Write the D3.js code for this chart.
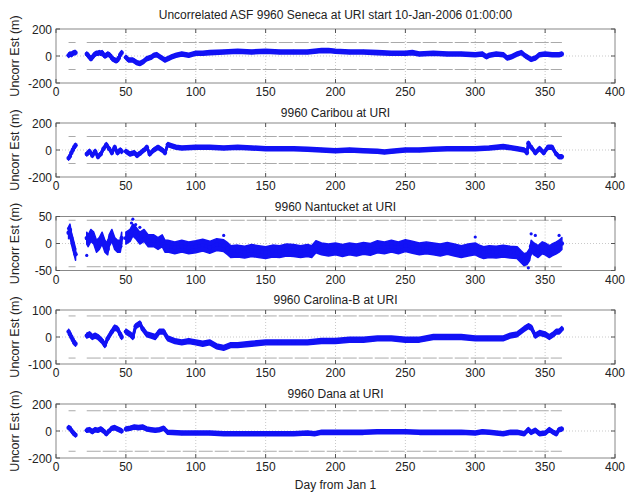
<!DOCTYPE html>
<html><head><meta charset="utf-8">
<script src="https://cdn.jsdelivr.net/npm/d3@7"></script>
<style>
body{margin:0;background:#fff;}
text{font-family:"Liberation Sans",Arial,sans-serif;}
</style></head>
<body><svg id="c" width="628" height="495"></svg>
<script>
// ---------- data ----------
const xTicks = [0,50,100,150,200,250,300,350,400];
const titles = [
  "Uncorrelated ASF 9960 Seneca at URI start 10-Jan-2006 01:00:00",
  "9960 Caribou at URI",
  "9960 Nantucket at URI",
  "9960 Carolina-B at URI",
  "9960 Dana at URI"
];
const yLimits = [200, 200, 50, 100, 200];
const thresholds = [100, 100, 43, 78, 150];
const spreads = [15, 15, 11, 9, 15];   // half thickness of the point cloud (data units)
const gaps = [[14,22],[47,50]];
const threshSpans = [[9,14],[22,362]];

const days1 = [9,10,11,12,13,14,22,23,24,25,26,27,28,29,30,31,32,33,34,35,36,37,38,39,40,41,42,43,44,45,46,47,
  50,52,55,58,60,62,65,68,70,72,75,78,80,83,86,90,93,95,100,105,110,120,130,140,150,160,170,180,190,195,200,210,220,230,240,250,255,260,270,280,290,300,305,308,310,315,320,323,326,330,333,336,340,343,346,350,355,360,362];
const vals1 = [5,15,10,20,25,25,15,5,-10,-20,-10,5,15,20,20,25,20,25,10,0,5,15,10,0,-15,-25,-30,-35,-30,-15,10,25,
  -10,-30,-30,-50,-55,-45,-20,-10,5,10,-10,-30,-20,-5,5,15,10,5,20,20,25,30,35,30,35,30,30,30,40,40,35,30,30,25,20,20,25,15,20,15,15,10,15,-5,5,15,10,-15,-5,15,25,0,-25,-15,10,15,10,10,15];

const days2 = [9,10,11,12,13,14,22,24,26,28,30,32,34,36,38,40,42,44,46,47,
  50,53,56,58,60,63,65,67,70,73,76,78,80,83,86,90,100,110,120,130,140,150,160,170,180,190,200,210,220,230,235,240,250,260,270,280,290,300,310,320,330,335,337,338,340,343,346,349,352,355,358,360,362];
const vals2 = [-60,-45,-20,0,20,35,-30,-10,-40,-10,-50,-30,10,40,10,-20,20,-20,0,-10,
  -10,-30,-20,-40,-25,0,20,-30,0,20,0,-20,40,30,20,15,20,20,15,20,15,10,10,10,5,0,-5,0,-5,-10,-15,-10,0,0,5,10,10,10,15,25,10,0,-20,50,20,-20,10,-20,20,20,-30,-50,-50];

const days3 = [9,10,11,12,13,14,22,23,25,27,29,31,33,35,37,38,40,42,44,46,47,
  50,53,55,57,60,63,66,70,73,76,78,80,85,90,95,100,105,110,115,120,123,125,130,135,140,145,150,155,160,165,170,175,180,183,186,190,195,200,205,210,215,220,225,230,235,240,245,250,255,260,265,270,275,280,285,290,295,300,303,306,310,315,320,325,330,333,335,337,339,340,342,345,348,350,353,355,358,360,362];
const vals3 = [20,25,10,0,-10,-20,10,5,15,10,-5,0,10,-5,-10,5,15,0,-5,-5,10,
  10,15,25,20,10,15,5,5,0,5,-5,-5,-8,-5,-8,-6,-3,-7,-2,-4,-10,-15,-14,-16,-13,-15,-17,-14,-15,-12,-13,-15,-13,-15,-6,-10,-12,-10,-13,-10,-12,-9,-11,-6,-8,-5,-8,-4,-7,-10,-8,-10,-12,-9,-12,-15,-12,-10,-14,-17,-15,-16,-14,-16,-17,-25,-30,-28,-20,-5,-10,-15,-8,-10,-15,-12,-8,-5,0];
const outDays3 = [9,22,54,55,57,60,120,300,335,338,340,343,360];
const outVals3 = [28,-22,38,45,35,30,15,12,-38,-45,18,15,15];

const days4 = [9,10,11,12,13,14,22,24,26,28,30,33,35,37,40,42,44,46,47,
  50,53,55,57,60,62,65,68,71,74,77,80,85,90,95,100,105,110,115,120,125,130,140,150,160,170,180,190,200,210,220,230,240,250,260,270,280,290,300,310,320,325,330,335,338,340,343,346,350,353,356,358,360,362];
const vals4 = [20,10,0,-10,-20,-25,5,10,0,5,0,-15,-30,-5,20,35,30,10,0,
  20,10,0,40,50,30,10,5,0,20,20,-5,-15,-20,-15,-20,-25,-20,-35,-40,-30,-30,-25,-20,-20,-20,-20,-15,-15,-10,-10,-5,-5,-10,-10,0,0,0,-5,-5,-5,5,10,30,40,35,5,15,10,0,10,20,20,30];

const days5 = [9,10,11,12,13,14,22,24,26,28,30,32,34,36,38,40,42,44,46,47,
  50,53,56,59,62,65,68,71,74,77,80,90,100,110,120,130,140,150,160,170,180,185,190,200,210,220,230,240,250,260,270,280,290,300,305,310,320,325,330,335,338,340,343,346,350,353,356,358,360,362];
const vals5 = [25,20,5,-10,-20,-30,5,10,-5,10,5,15,0,-20,0,20,25,15,5,0,
  15,20,30,25,30,15,10,5,10,20,-10,-15,-15,-15,-20,-20,-20,-20,-20,-20,-15,-20,-10,-10,-10,-10,-5,-5,-5,-10,-10,-10,-10,-15,-5,-10,-20,-10,-10,-20,10,-10,5,-20,-15,10,-10,-20,10,15];

const seriesDays = [days1, days2, days3, days4, days5];
const seriesVals = [vals1, vals2, vals3, vals4, vals5];

// ---------- layout ----------
const L = 56, R = 615, H = 54;
const tops = [29, 123, 216.5, 310, 404];
const blue = "#1212f5";
const svg = d3.select("#c");
const x = d3.scaleLinear().domain([0,400]).range([L,R]);

function splitSegments(ds, vs){
  const segs=[]; let cur=[];
  for(let i=0;i<ds.length;i++){
    if(i>0 && gaps.some(g=>ds[i-1]<=g[0] && ds[i]>=g[1])){ segs.push(cur); cur=[]; }
    cur.push([ds[i],vs[i]]);
  }
  if(cur.length) segs.push(cur);
  return segs;
}

for(let p=0;p<5;p++){
  const t=tops[p], lim=yLimits[p];
  const y=d3.scaleLinear().domain([-lim,lim]).range([t+H,t]);
  const g=svg.append("g");
  // grid
  g.selectAll(".vg").data(xTicks.slice(1,-1)).join("line")
    .attr("x1",d=>x(d)).attr("x2",d=>x(d)).attr("y1",t).attr("y2",t+H)
    .attr("stroke","#bbb").attr("stroke-width",0.8).attr("stroke-dasharray","1,2");
  g.append("line").attr("x1",L).attr("x2",R).attr("y1",y(0)).attr("y2",y(0))
    .attr("stroke","#bbb").attr("stroke-width",0.8).attr("stroke-dasharray","1,2");
  // thresholds
  [thresholds[p],-thresholds[p]].forEach(th=>{
    threshSpans.forEach(s=>{
      g.append("line").attr("x1",x(s[0])).attr("x2",x(s[1])).attr("y1",y(th)).attr("y2",y(th))
        .attr("stroke","#aaa").attr("stroke-width",1).attr("stroke-dasharray","14,2");
    });
  });
  // data
  const segs=splitSegments(seriesDays[p],seriesVals[p]);
  const sp=spreads[p];
  const area=d3.area().x(d=>x(d[0])).y0(d=>y(d[1]-sp)).y1(d=>y(d[1]+sp));
  const line=d3.line().x(d=>x(d[0])).y(d=>y(d[1]));
  segs.forEach(s=>{
    g.append("path").attr("d",area(s)).attr("fill",blue).attr("stroke",blue).attr("stroke-width",1.5).attr("stroke-linejoin","round");
    g.append("path").attr("d",line(s)).attr("fill","none").attr("stroke",blue).attr("stroke-width",3).attr("stroke-linejoin","round").attr("stroke-linecap","round");
  });
  g.selectAll(".pt").data(seriesDays[p].map((d,i)=>[d,seriesVals[p][i]])).join("circle")
    .attr("cx",d=>x(d[0])).attr("cy",d=>y(d[1])).attr("r",2.2).attr("fill",blue);
  if(p===2){
    g.selectAll(".out").data(outDays3.map((d,i)=>[d,outVals3[i]])).join("circle")
      .attr("cx",d=>x(d[0])).attr("cy",d=>y(d[1])).attr("r",1.6).attr("fill",blue);
  }
  // box
  g.append("rect").attr("x",L).attr("y",t).attr("width",R-L).attr("height",H)
    .attr("fill","none").attr("stroke","#888").attr("stroke-width",1);
  // ticks (inside)
  xTicks.forEach(v=>{
    g.append("line").attr("x1",x(v)).attr("x2",x(v)).attr("y1",t+H).attr("y2",t+H-4).attr("stroke","#555");
    g.append("line").attr("x1",x(v)).attr("x2",x(v)).attr("y1",t).attr("y2",t+4).attr("stroke","#555");
  });
  [-lim,0,lim].forEach(v=>{
    g.append("line").attr("x1",L).attr("x2",L+4).attr("y1",y(v)).attr("y2",y(v)).attr("stroke","#555");
    g.append("line").attr("x1",R).attr("x2",R-4).attr("y1",y(v)).attr("y2",y(v)).attr("stroke","#555");
  });
  // tick labels
  g.selectAll(".xl").data(xTicks).join("text").attr("x",d=>x(d)).attr("y",t+H+13)
    .attr("text-anchor","middle").attr("font-size",12).attr("fill","#222").text(d=>d);
  g.selectAll(".yl").data([-lim,0,lim]).join("text").attr("x",L-4).attr("y",d=>y(d)+4.5)
    .attr("text-anchor","end").attr("font-size",12).attr("fill","#222").text(d=>d);
  // title
  g.append("text").attr("x",(L+R)/2).attr("y",p===0?t-10:t-6).attr("text-anchor","middle")
    .attr("font-size",12).attr("fill","#222").text(titles[p]);
  // ylabel
  g.append("text").attr("transform",`translate(19,${t+H/2}) rotate(-90)`).attr("text-anchor","middle")
    .attr("font-size",12.5).attr("fill","#222").text("Uncorr Est (m)");
}
svg.append("text").attr("x",(L+R)/2).attr("y",489).attr("text-anchor","middle")
  .attr("font-size",12).attr("fill","#222").text("Day from Jan 1");
</script></body></html>
